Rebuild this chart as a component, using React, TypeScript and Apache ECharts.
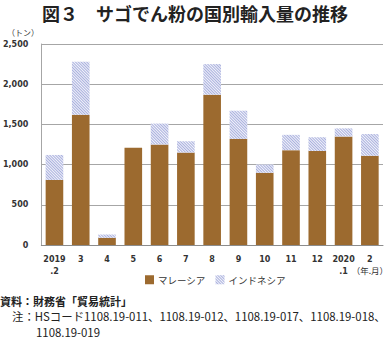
import React, { useEffect, useRef } from "react";
import * as echarts from "echarts";

const categories = ["2019\n.2", "3", "4", "5", "6", "7", "8", "9", "10", "11", "12", "2020\n.1", "2"];
const malaysia = [810, 1620, 90, 1210, 1250, 1150, 1870, 1320, 900, 1180, 1170, 1350, 1110];
const indonesia = [310, 660, 40, 0, 260, 140, 380, 350, 100, 190, 170, 100, 270];
const yTicks = [0, 500, 1000, 1500, 2000, 2500];
const seriesNames = ["マレーシア", "インドネシア"];

const titleText = "図３　サゴでん粉の国別輸入量の推移";
const unitText = "（トン）";
const xUnitText = "（年.月）";
const sourceText = "資料：財務省「貿易統計」";
const noteLine1 = "注：HSコード1108.19-011、1108.19-012、1108.19-017、1108.19-018、";
const noteLine2 = "1108.19-019";

const jp = "'Noto Sans CJK JP', 'Noto Sans', sans-serif";
const lat = "'DejaVu Sans', 'Noto Sans', sans-serif";

export default function App() {
  const ref = useRef<HTMLDivElement>(null);
  useEffect(() => {
    if (!ref.current) return;
    const chart = echarts.init(ref.current, undefined, { renderer: "svg" });
    chart.setOption({
      animation: false,
      backgroundColor: "#ffffff",
      grid: { left: 33, right: 6, top: 44, bottom: 95, containLabel: false },
      legend: {
        left: 140,
        top: 270,
        itemWidth: 9,
        itemHeight: 9,
        itemGap: 10,
        icon: "rect",
        textStyle: { fontSize: 9.5, fontFamily: jp, color: "#333", padding: [0, 0, 0, -1] },
        data: seriesNames,
      },
      xAxis: {
        type: "category",
        data: categories,
        axisLine: { show: true, lineStyle: { color: "#8c8c8c", width: 1 } },
        axisTick: { show: false },
        axisLabel: {
          fontSize: 8,
          fontWeight: "bold",
          fontFamily: lat,
          color: "#333",
          lineHeight: 12,
          margin: 8,
          interval: 0,
        },
      },
      yAxis: {
        type: "value",
        min: 0,
        max: 2500,
        interval: 500,
        axisLine: { show: true, lineStyle: { color: "#a6a6a6", width: 1 } },
        axisTick: { show: false },
        splitLine: { show: true, lineStyle: { color: "#a6a6a6", width: 1 } },
        axisLabel: {
          fontSize: 8,
          fontWeight: "bold",
          fontFamily: lat,
          color: "#333",
          margin: 13,
          customValues: yTicks,
          formatter: (v: number) => v.toLocaleString("en-US"),
        },
      },
      series: [
        {
          name: seriesNames[0],
          type: "bar",
          stack: "total",
          data: malaysia,
          barWidth: "67%",
          itemStyle: { color: "#9c6a2f" },
        },
        {
          name: seriesNames[1],
          type: "bar",
          stack: "total",
          data: indonesia,
          barWidth: "67%",
          itemStyle: {
            color: "#f2f3fa",
            decal: {
              symbol: "rect",
              symbolSize: 1,
              color: "#a9b0de",
              dashArrayX: [[1, 0]],
              dashArrayY: [1, 1],
              rotation: Math.PI / 4,
            },
          },
        },
      ],
      graphic: [
        {
          type: "text",
          x: 195,
          y: 13,
          style: {
            text: titleText,
            fontSize: 18,
            fontWeight: "bold",
            fontFamily: jp,
            fill: "#222",
            align: "center",
            verticalAlign: "middle",
          },
        },
        {
          type: "text",
          x: 23,
          y: 32,
          style: {
            text: unitText,
            fontSize: 8,
            fontFamily: jp,
            fill: "#333",
            align: "center",
            verticalAlign: "middle",
          },
        },
        {
          type: "text",
          x: 388,
          y: 270,
          style: {
            text: xUnitText,
            fontSize: 8.5,
            fontFamily: jp,
            fill: "#333",
            align: "right",
            verticalAlign: "middle",
          },
        },
        {
          type: "text",
          x: 0,
          y: 301,
          style: {
            text: sourceText,
            fontSize: 11,
            fontWeight: "bold",
            fontFamily: jp,
            fill: "#222",
            verticalAlign: "middle",
          },
        },
        {
          type: "text",
          x: 12,
          y: 316,
          style: {
            text: noteLine1,
            fontSize: 11.4,
            fontFamily: jp,
            fill: "#222",
            verticalAlign: "middle",
          },
        },
        {
          type: "text",
          x: 36,
          y: 332,
          style: {
            text: noteLine2,
            fontSize: 11.4,
            fontFamily: jp,
            fill: "#222",
            verticalAlign: "middle",
          },
        },
      ],
    });
    return () => chart.dispose();
  }, []);
  return (
    <div
      ref={ref}
      style={{ position: "fixed", left: 0, top: 0, width: 389, height: 340 }}
    />
  );
}
